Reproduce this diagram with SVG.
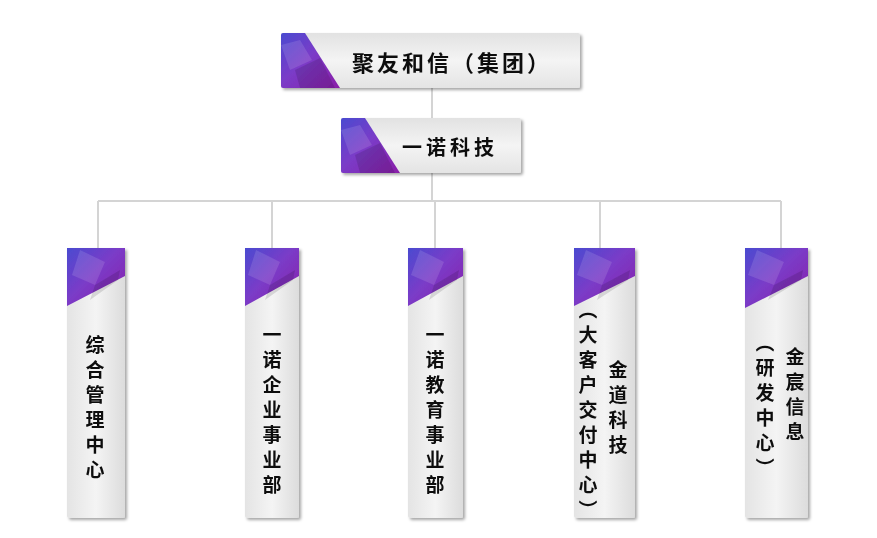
<svg xmlns="http://www.w3.org/2000/svg" width="877" height="538" viewBox="0 0 877 538">
<defs>
<linearGradient id="gh" x1="0" y1="0" x2="0" y2="1"><stop offset="0" stop-color="#e2e2e2"/><stop offset="0.5" stop-color="#f4f4f4"/><stop offset="1" stop-color="#e4e4e4"/></linearGradient>
<linearGradient id="gv" x1="0" y1="0" x2="1" y2="0"><stop offset="0" stop-color="#e4e4e4"/><stop offset="0.5" stop-color="#f4f4f4"/><stop offset="1" stop-color="#dcdcdc"/></linearGradient>
<linearGradient id="gp" x1="0" y1="0" x2="1" y2="1"><stop offset="0" stop-color="#4a4ad0"/><stop offset="0.45" stop-color="#7a3cc8"/><stop offset="1" stop-color="#8a1ea8"/></linearGradient>
<filter id="sh" x="-10%" y="-10%" width="130%" height="130%"><feDropShadow dx="2" dy="2" stdDeviation="1.5" flood-color="#000" flood-opacity="0.35"/></filter>
<style>
.bx{filter:url(#sh)}
.t{font-family:"Noto Sans CJK SC","Noto Sans CJK JP",sans-serif;font-weight:bold;fill:#111}
.v{writing-mode:vertical-rl;font-size:19px;letter-spacing:6px}
.ln{stroke:#d4d4d4;stroke-width:2;fill:none}
.f1{fill:#fff;opacity:0.12}.f2{fill:#000;opacity:0.12}
</style>
</defs>
<g id="connectors">
<path class="ln" d="M432 88V201M98 201H781M98 201V248M272 201V248M435 201V248M600 201V248M781 201V248"/>
</g>
<g id="n0" class="bx"><rect x="281" y="33" width="299" height="55" rx="2" fill="url(#gh)"/>
<path d="M283 33H305L340 88H283Q281 88 281 86V35Q281 33 283 33Z" fill="url(#gp)"/><path class="f1" d="M281 45L300 40L312 60L290 70Z"/><path class="f2" d="M295 70L320 58L335 88H300Z"/>
<text class="t" x="452" y="71" font-size="22" text-anchor="middle" letter-spacing="3">聚友和信（集团）</text></g>
<g id="n1" class="bx"><rect x="341" y="118" width="180" height="55" rx="2" fill="url(#gh)"/>
<path d="M343 118H365L400 173H343Q341 173 341 171V120Q341 118 343 118Z" fill="url(#gp)"/><path class="f1" d="M341 130L360 125L372 145L350 155Z"/><path class="f2" d="M355 155L380 143L395 173H360Z"/>
<text class="t" x="450" y="155" font-size="20" text-anchor="middle" letter-spacing="4">一诺科技</text></g>
<g id="n2" class="bx"><rect x="67" y="248" width="58" height="270" rx="2" fill="url(#gv)"/>
<path d="M67 248H125V276L67 306Z" fill="url(#gp)"/><path class="f1" d="M80 250L105 262L95 285L72 275Z"/><path class="f2" d="M95 285L120 270L118 280L90 300Z"/>
<text class="t v" x="95" y="335">综合管理中心</text></g>
<g id="n3" class="bx"><rect x="245" y="248" width="54" height="270" rx="2" fill="url(#gv)"/>
<path d="M245 248H299V276L245 306Z" fill="url(#gp)"/><path class="f1" d="M256 250L280 262L270 285L248 275Z"/><path class="f2" d="M270 285L295 270L293 280L265 300Z"/>
<text class="t v" x="272" y="325">一诺企业事业部</text></g>
<g id="n4" class="bx"><rect x="408" y="248" width="55" height="270" rx="2" fill="url(#gv)"/>
<path d="M408 248H463V276L408 306Z" fill="url(#gp)"/><path class="f1" d="M420 250L444 262L434 285L411 275Z"/><path class="f2" d="M434 285L459 270L457 280L429 300Z"/>
<text class="t v" x="435" y="325">一诺教育事业部</text></g>
<g id="n5" class="bx"><rect x="574" y="248" width="61" height="270" rx="2" fill="url(#gv)"/>
<path d="M574 248H635V276L574 306Z" fill="url(#gp)"/><path class="f1" d="M586 250L612 262L602 285L577 275Z"/><path class="f2" d="M602 285L630 270L628 280L597 300Z"/>
<text class="t v" x="618" y="360">金道科技</text>
<text class="t v" x="588" y="300">（大客户交付中心）</text></g>
<g id="n6" class="bx"><rect x="745" y="248" width="63" height="270" rx="2" fill="url(#gv)"/>
<path d="M745 248H808V276L745 308Z" fill="url(#gp)"/><path class="f1" d="M757 250L784 262L774 285L748 275Z"/><path class="f2" d="M774 285L803 270L801 280L768 300Z"/>
<text class="t v" x="795" y="347">金宸信息</text>
<text class="t v" x="765" y="333">（研发中心）</text></g>
</svg>
